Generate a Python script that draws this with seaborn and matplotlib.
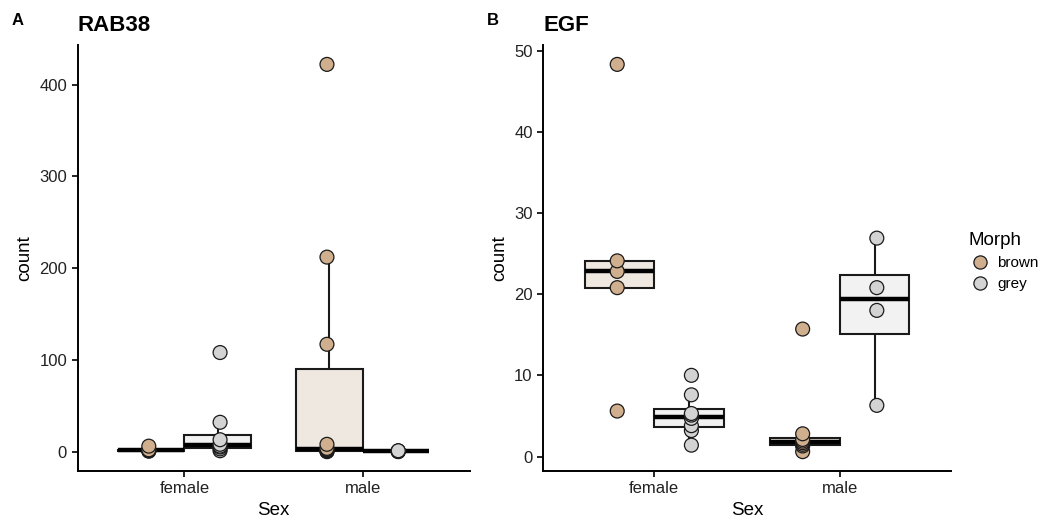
import pandas as pd
import matplotlib.pyplot as plt
import seaborn as sns
from matplotlib.lines import Line2D

# values
sexes = ['female', 'male']
morphs = ['brown', 'grey']

rab38_female_brown = [0.5, 1.0, 1.5, 2.0, 6.0]
rab38_female_grey = [1, 3, 5, 6, 8, 13, 32, 108]
rab38_male_brown = [0, 0.5, 1, 2, 2.5, 3.5, 8, 117, 212, 422]
rab38_male_grey = [0, 0.2, 0.5, 0.8, 1.0]

egf_female_brown = [5.6, 20.8, 22.8, 24.1, 48.3]
egf_female_grey = [1.4, 3.2, 3.8, 4.7, 5.1, 5.3, 7.6, 10.0]
egf_male_brown = [0.6, 1.3, 1.5, 1.7, 1.9, 2.1, 2.8, 15.7]
egf_male_grey = [6.3, 18.0, 20.8, 26.9]


def long_table(fb, fg, mb, mg):
    rows = []
    for sex, morph, vals in [('female', 'brown', fb), ('female', 'grey', fg),
                             ('male', 'brown', mb), ('male', 'grey', mg)]:
        for v in vals:
            rows.append({'Sex': sex, 'Morph': morph, 'count': v})
    return pd.DataFrame(rows)


rab38 = long_table(rab38_female_brown, rab38_female_grey, rab38_male_brown, rab38_male_grey)
egf = long_table(egf_female_brown, egf_female_grey, egf_male_brown, egf_male_grey)

point_cols = {'brown': '#D0AF8E', 'grey': '#D3D3D3'}
box_cols = {'brown': '#F1E8DD', 'grey': '#F2F2F2'}

plt.rcParams['font.family'] = ['Liberation Sans', 'DejaVu Sans']

fig = plt.figure(figsize=(10.52, 5.23), dpi=100)
axA = fig.add_axes([0.0737, 0.0994, 0.3726, 0.8145])
axB = fig.add_axes([0.5162, 0.0994, 0.3878, 0.8145])


def panel(ax, df, title, ticks):
    sns.boxplot(data=df, x='Sex', y='count', hue='Morph', order=sexes, hue_order=morphs,
                palette=box_cols, width=0.75, dodge=True, showfliers=False, showcaps=False,
                linecolor='#1a1a1a', linewidth=1.5, legend=False, ax=ax,
                medianprops={'color': 'black', 'linewidth': 3.2})
    sns.stripplot(data=df, x='Sex', y='count', hue='Morph', order=sexes, hue_order=morphs,
                  palette=point_cols, dodge=True, jitter=False, size=10,
                  edgecolor='#1a1a1a', linewidth=0.9, legend=False, ax=ax, zorder=5)
    lo, hi = df['count'].min(), df['count'].max()
    pad = 0.05 * (hi - lo)
    ax.set_ylim(lo - pad, hi + pad)
    ax.set_xlim(-0.6, 1.6)
    ax.set_yticks(ticks)
    ax.set_yticklabels([str(t) for t in ticks])
    for s in ['top', 'right']:
        ax.spines[s].set_visible(False)
    for s in ['left', 'bottom']:
        ax.spines[s].set_linewidth(1.4)
    ax.tick_params(length=4, width=1.2, labelsize=12, colors='black', labelcolor='#222222')
    ax.set_xlabel('Sex', fontsize=13.5)
    ax.set_ylabel('count', fontsize=13.5)
    ax.set_title(title, loc='left', fontsize=16, fontweight='bold', pad=10)


panel(axA, rab38, 'RAB38', [0, 100, 200, 300, 400])
panel(axB, egf, 'EGF', [0, 10, 20, 30, 40, 50])

fig.text(0.011, 0.96, 'A', fontsize=12, fontweight='bold', va='center')
fig.text(0.463, 0.96, 'B', fontsize=12, fontweight='bold', va='center')

handles = [Line2D([], [], marker='o', linestyle='', markersize=9.5,
                  markerfacecolor=point_cols[m], markeredgecolor='#1a1a1a',
                  markeredgewidth=0.9, label=m) for m in morphs]
leg = fig.legend(handles=handles, title='Morph', loc='center left',
                 bbox_to_anchor=(0.91, 0.5), frameon=False, fontsize=11,
                 title_fontsize=13.5, handletextpad=0.3, labelspacing=0.45,
                 alignment='left', borderpad=0.2, handlelength=1.6)

fig.savefig('out.png', dpi=100)
